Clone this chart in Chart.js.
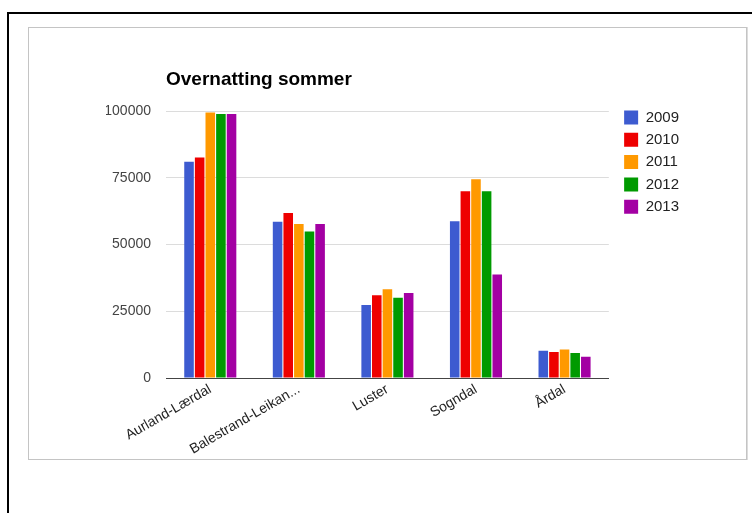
<!DOCTYPE html>
<html>
<head>
<meta charset="utf-8">
<script src="https://cdn.jsdelivr.net/npm/chart.js@4"></script>
<style>
  body { margin: 0; background: #fff; overflow: hidden; }
  .frame { position: absolute; left: 7px; top: 12px; width: 900px; height: 700px;
           border-left: 2px solid #000; border-top: 2px solid #000; }
  .panel { position: absolute; left: 28px; top: 27px; width: 717px; height: 431px;
           border: 1px solid #c4c4c4; box-shadow: 1px 0 0 #dcdcdc; }
  #myChart { position: absolute; left: 0; top: 0; }
</style>
</head>
<body>
<div class="frame"></div>
<div class="panel"></div>
<canvas id="myChart" width="752" height="513"></canvas>
<script>
// Data
const kommuner = ['Aurland-Lærdal', 'Balestrand-Leikan...', 'Luster', 'Sogndal', 'Årdal'];
const years = ['2009', '2010', '2011', '2012', '2013'];
const y2009 = [81000, 58500, 27300, 58700, 10200];
const y2010 = [82600, 61800, 31000, 69900, 9700];
const y2011 = [99400, 57700, 33200, 74400, 10700];
const y2012 = [98900, 54900, 30100, 69900, 9400];
const y2013 = [98900, 57700, 31800, 38800, 8000];
const yTicks = [0, 25000, 50000, 75000, 100000];

const colors = ['#3d5bd0', '#ee0000', '#ff9900', '#009a00', '#a300a3'];
const font = '"Liberation Sans", Arial, sans-serif';

new Chart(
  document.getElementById('myChart'),
  {
    type: 'bar',
    data: {
      labels: kommuner,
      datasets: [y2009, y2010, y2011, y2012, y2013].map((vals, i) => ({
        label: years[i],
        data: vals,
        backgroundColor: colors[i],
        borderWidth: 0,
        categoryPercentage: 0.6,
        barPercentage: 0.9
      }))
    },
    options: {
      responsive: false,
      animation: false,
      devicePixelRatio: 1,
      layout: { padding: { left: 106, right: 63, top: 68.1, bottom: 45 } },
      plugins: {
        tooltip: { enabled: false },
        title: {
          display: true,
          text: 'Overnatting sommer',
          align: 'start',
          fullSize: false,
          color: '#000',
          font: { family: font, size: 19, weight: 'bold' },
          padding: { top: 0, bottom: 20.1 }
        },
        legend: {
          position: 'right',
          align: 'start',
          // empty title only pushes the legend rows down to the first gridline
          title: { display: true, text: '', font: { size: 10, lineHeight: 1 }, padding: { top: 24.6, bottom: 0 } },
          labels: {
            boxWidth: 14,
            boxHeight: 14,
            padding: 7.3,
            color: '#222',
            font: { family: font, size: 15 }
          }
        }
      },
      scales: {
        x: {
          grid: { display: false },
          border: { display: true, color: '#444', width: 1 },
          ticks: {
            color: '#222',
            font: { family: font, size: 14 },
            minRotation: 30,
            maxRotation: 30,
            padding: -5,
            autoSkip: false
          },
          afterFit: s => { s.height = 90; }
        },
        y: {
          min: 0,
          max: 100000,
          afterBuildTicks: s => { s.ticks = yTicks.map(v => ({ value: v })); },
          grid: {
            drawTicks: false,
            color: c => (c.tick && c.tick.value === 0) ? '#444' : '#dcdcdc'
          },
          border: { display: false },
          ticks: {
            color: '#444',
            font: { family: font, size: 14 },
            padding: 15,
            callback: v => String(v)
          },
          afterFit: s => { s.width = 60; }
        },
        gap: {
          type: 'linear',
          position: 'right',
          grid: { display: false },
          border: { display: false },
          ticks: { display: false },
          afterFit: s => { s.width = 8; }
        }
      }
    }
  }
);
</script>
</body>
</html>
